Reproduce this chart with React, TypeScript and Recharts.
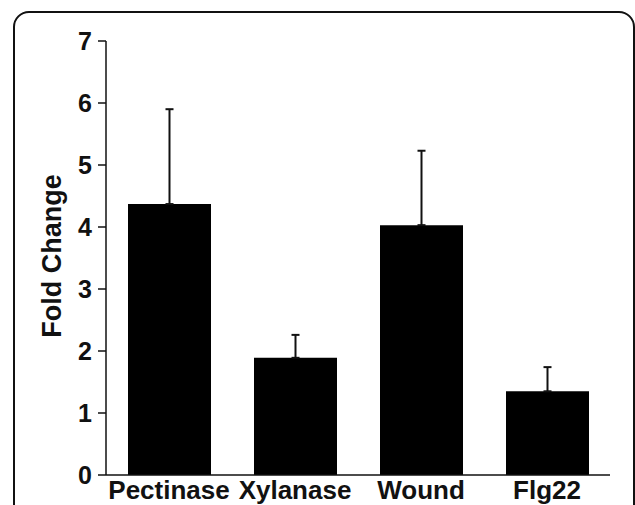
import { BarChart, Bar, XAxis, YAxis, ErrorBar } from 'recharts'

const treatments = ['Pectinase', 'Xylanase', 'Wound', 'Flg22']
const foldChange = [4.37, 1.89, 4.03, 1.35]
const upperError = [1.53, 0.37, 1.2, 0.39]
const yTicks = [0, 1, 2, 3, 4, 5, 6, 7]

const data = treatments.map((name, i) => ({
  name,
  value: foldChange[i],
  err: [0, upperError[i]],
}))

const font = '"Liberation Sans", Arial, sans-serif'

function YLabel() {
  return (
    <text
      x={52}
      y={256}
      transform="rotate(-90 52 256)"
      textAnchor="middle"
      dominantBaseline="central"
      fontFamily={font}
      fontWeight="bold"
      fontSize={27}
      fill="#111"
    >
      Fold Change
    </text>
  )
}

export default function App() {
  return (
    <div style={{ position: 'absolute', left: 0, top: 0, width: 635, height: 505, overflow: 'hidden', background: '#fff' }}>
      <div
        style={{
          position: 'absolute',
          left: 13,
          top: 11,
          width: 618,
          height: 560,
          border: '2px solid #111',
          borderRadius: 16,
        }}
      />
      <div style={{ position: 'absolute', left: 0, top: 0 }}>
        <BarChart width={635} height={505} data={data} margin={{ top: 41, right: 25, bottom: 0, left: 0 }}>
          <XAxis
            dataKey="name"
            height={30}
            axisLine={{ stroke: '#111', strokeWidth: 1.5 }}
            tickLine={false}
            tickSize={0}
            tickMargin={6}
            interval={0}
            tick={{ fontFamily: font, fontWeight: 'bold', fontSize: 26, fill: '#111' }}
          />
          <YAxis
            width={106}
            domain={[0, 7]}
            ticks={yTicks}
            interval={0}
            axisLine={{ stroke: '#111', strokeWidth: 1.5 }}
            tickLine={{ stroke: '#111', strokeWidth: 1.5 }}
            tickSize={8}
            tickMargin={6}
            tick={{ fontFamily: font, fontWeight: 'bold', fontSize: 25, fill: '#111' }}
            label={<YLabel />}
          />
          <Bar dataKey="value" fill="#000" barSize={83} isAnimationActive={false}>
            <ErrorBar dataKey="err" width={4} stroke="#111" strokeWidth={2} direction="y" />
          </Bar>
        </BarChart>
      </div>
    </div>
  )
}
